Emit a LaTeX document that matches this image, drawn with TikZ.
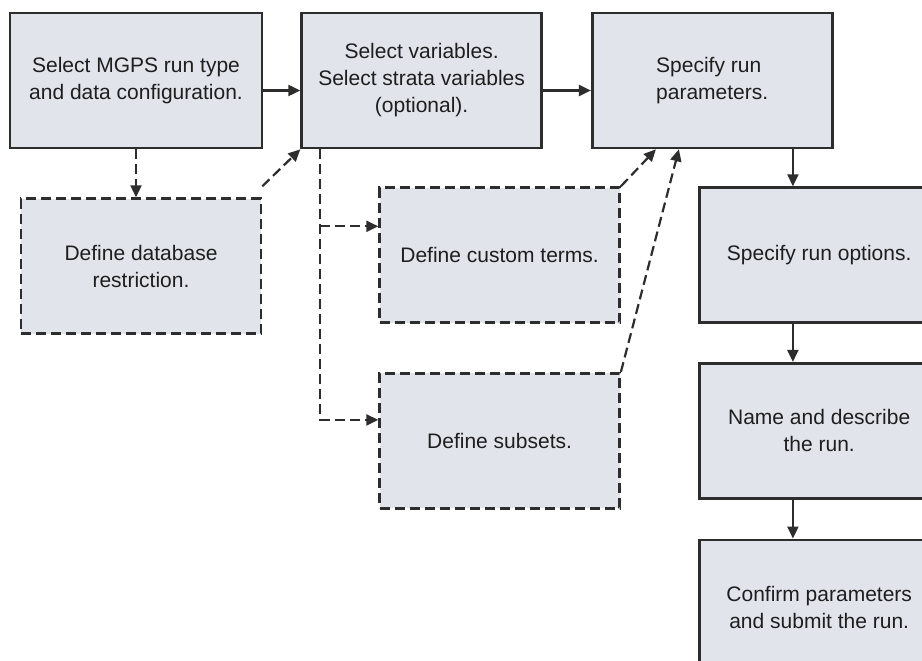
\documentclass[tikz,border=0pt]{standalone}
\usepackage{fontspec}
\setmainfont{Liberation Sans}
\usetikzlibrary{arrows.meta,positioning}
\definecolor{boxfill}{RGB}{225,228,234}
\definecolor{boxline}{RGB}{45,45,45}
\definecolor{boxtext}{RGB}{30,30,30}
\tikzset{
  stepbox/.style={draw=boxline, fill=boxfill, line width=2.6pt, align=center,
                  minimum width=#1, minimum height=135pt, inner sep=0pt,
                  text=boxtext, font=\fontsize{21}{27}\selectfont},
  stepbox/.default=240pt,
  optbox/.style ={stepbox, dash pattern=on 10pt off 5pt},
  arr/.style    ={-{Triangle[length=12pt,width=11pt]}, line width=2.2pt,
                  draw=boxline},
  darr/.style   ={arr, dash pattern=on 10pt off 5pt},
}

\begin{document}
\begin{tikzpicture}[x=1pt, y=1pt, node distance=37pt]
  \useasboundingbox (0,0) rectangle (922,-661);
  \clip (0,0) rectangle (922,-661);

  % top row
  \node[stepbox=252pt] (sel) at (136,-80.5)
        {Select MGPS run type\\and data configuration.};
  \node[stepbox, right=37pt of sel] (var)
        {Select variables.\\Select strata variables\\(optional).};
  \node[stepbox, right=48pt of var, align=left] (par)
        {Specify run\\parameters.};

  % optional steps
  \node[optbox, below=48pt of sel, xshift=5pt] (restr)
        {Define database\\restriction.};
  \node[optbox, below right=37pt and 78pt of var.south west] (terms)
        {Define custom terms.};
  \node[optbox, below=48pt of terms] (subs) {Define subsets.};

  % right column
  \node[stepbox, below right=37pt and 107pt of par.south west] (opts)
        {Specify run options.};
  \node[stepbox, below=38pt of opts] (names)
        {Name and describe\\the run.};
  \node[stepbox, below=39pt of names] (conf)
        {Confirm parameters\\and submit the run.};

  \draw[arr]([yshift=-10pt]sel.east)--([yshift=-10pt]var.west);
  \draw[arr]([yshift=-10pt]var.east)--([yshift=-10pt]par.west);
  \draw[darr](sel.south)--(sel.south |- restr.north);
  \draw[darr]([yshift=11pt]restr.north east)--(var.south west);

  \coordinate (trunk) at ([xshift=20pt]var.south west);
  \coordinate (tin)   at ([yshift=-40pt]terms.north west);
  \coordinate (sin)   at ([yshift=-48pt]subs.north west);
  \draw[darr](trunk)|-(sin);
  \draw[darr](trunk |- tin)--(tin);
  \draw[darr](terms.north east)--([xshift=65pt]par.south west);
  \draw[darr](subs.north east)--([xshift=88pt]par.south west);

  \coordinate (pdrop) at ([xshift=202pt]par.south west);
  \coordinate (odrop) at ([xshift=95pt]opts.south west);
  \draw[arr](pdrop)--(pdrop |- opts.north);
  \draw[arr](odrop)--(odrop |- names.north);
  \draw[arr](odrop |- names.south)--(odrop |- conf.north);
\end{tikzpicture}
\end{document}
